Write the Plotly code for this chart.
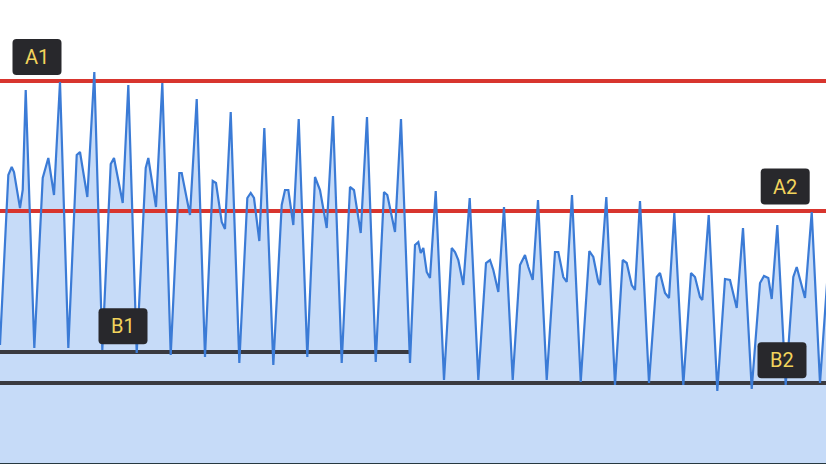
import plotly.graph_objects as go

# time (s) and pressure-like values
t = [0.0,
     0.208, 0.293, 0.35, 0.5, 0.568, 0.643, 0.858,
     1.068, 1.208, 1.35, 1.5, 1.708,
     1.918, 2.0, 2.183, 2.358, 2.558,
     2.768, 2.85, 3.068, 3.208, 3.418,
     3.643, 3.708, 3.9, 4.058, 4.268,
     4.483, 4.543, 4.75, 4.918, 5.125,
     5.318, 5.4, 5.543, 5.625, 5.768, 5.983,
     6.183, 6.268, 6.35, 6.483, 6.608, 6.833,
     7.043, 7.125, 7.208, 7.333, 7.468, 7.683,
     7.875, 8.0, 8.168, 8.325, 8.543,
     8.75, 8.85, 9.018, 9.175, 9.393,
     9.6, 9.683, 9.875, 10.025, 10.25,
     10.375, 10.458, 10.518, 10.583, 10.668, 10.75, 10.893, 11.1,
     11.293, 11.375, 11.458, 11.583, 11.743, 11.958,
     12.15, 12.25, 12.333, 12.458, 12.6, 12.818,
     13.0, 13.125, 13.208, 13.318, 13.45, 13.668,
     13.875, 13.958, 14.083, 14.168, 14.3, 14.518,
     14.733, 14.833, 14.958, 15.0, 15.158, 15.375,
     15.568, 15.668, 15.793, 15.875, 16.0, 16.225,
     16.418, 16.5, 16.625, 16.725, 16.858, 17.083,
     17.275, 17.375, 17.5, 17.558, 17.718, 17.933,
     18.125, 18.25, 18.418, 18.575, 18.793,
     19.0, 19.1, 19.208, 19.293, 19.433, 19.643,
     19.833, 19.918, 20.083, 20.125, 20.293, 20.5,
     20.7, 20.8]

pressure = [59.5,
            144.5, 148.5, 146, 128, 137, 187, 58,
            143, 153, 134.5, 191, 58,
            154.5, 156, 133.5, 196, 57,
            150, 153, 130.5, 189.5, 55.5,
            148, 153, 128.5, 190.5, 54.5,
            145.5, 145.5, 124.5, 182.5, 53.5,
            141.5, 140.5, 121, 117.5, 176, 50.5,
            133, 135.5, 133, 111.5, 168, 49.5,
            129.5, 137, 137, 119.5, 172.5, 53.5,
            143.5, 137, 118, 174, 50.5,
            138.5, 137, 115.5, 173.5, 51,
            136, 134.5, 116, 172.5, 50.5,
            109.5, 111, 105.5, 108, 96, 93, 136.5, 42,
            108, 106, 102, 89.5, 133, 42,
            100.5, 102, 97, 86, 128.5, 42,
            99.5, 104.5, 98.5, 92, 132, 42,
            106, 106, 93.5, 91, 134.5, 41,
            106.5, 103.5, 91, 89.5, 133.5, 39.5,
            102, 100.5, 89.5, 87, 131.5, 40.5,
            93.5, 95.5, 85.5, 83, 125.5, 39.5,
            95.5, 93.5, 83.5, 82, 124.5, 36.5,
            92.5, 92, 78, 118, 37.5,
            90.5, 94, 93, 82.5, 119.5, 39.5,
            93.5, 98.5, 85.5, 83, 126, 40.5,
            97, 99.5]

# reference levels
level_names = ["A1", "A2", "B1", "B2"]
level_values = [191.5, 126.5, 56, 40.5]
level_start = [0, 0, 0, 0]
level_end = [20.65, 20.65, 10.26, 20.65]
level_colors = ["#d8352e", "#d8352e", "#3a3a40", "#3a3a40"]

# label anchor positions (data units)
label_t = [0.925, 19.63, 3.075, 19.55]
label_v = [203.5, 138.75, 68.85, 51.85]

X_RANGE = [0, 20.65]
Y_RANGE = [0.5, 232]

# rounded box outline (pixels, relative to the label anchor)
BOX_PATH = ("M -20.5,-18 L 20.5,-18 Q 24.5,-18 24.5,-14 L 24.5,14 Q 24.5,18 20.5,18 "
            "L -20.5,18 Q -24.5,18 -24.5,14 L -24.5,-14 Q -24.5,-18 -20.5,-18 Z")

fig = go.Figure()

# filled area
fig.add_trace(go.Scatter(
    x=t, y=pressure, mode="lines", fill="tozeroy",
    fillcolor="#c6dbf8", line=dict(width=0, color="#c6dbf8"),
    hoverinfo="skip", showlegend=False))

# reference lines
for name, val, x0, x1, col in zip(level_names, level_values, level_start, level_end, level_colors):
    fig.add_trace(go.Scatter(
        x=[x0, x1], y=[val, val], mode="lines",
        line=dict(color=col, width=4), showlegend=False, name=name))

# waveform line
fig.add_trace(go.Scatter(
    x=t, y=pressure, mode="lines",
    line=dict(color="#3b7bd6", width=2.2), showlegend=False))

for name, lx, ly in zip(level_names, label_t, label_v):
    fig.add_shape(
        type="path", path=BOX_PATH, xref="x", yref="y",
        xsizemode="pixel", ysizemode="pixel", xanchor=lx, yanchor=ly,
        fillcolor="#28282c", line=dict(width=0), layer="above")
    fig.add_annotation(
        x=lx, y=ly, xref="x", yref="y", text=name, showarrow=False,
        xanchor="center", yanchor="middle",
        font=dict(family="Roboto", size=20, color="#f2d45c"))

fig.update_layout(
    width=826, height=464,
    margin=dict(l=0, r=0, t=0, b=1),
    paper_bgcolor="white", plot_bgcolor="white",
    xaxis=dict(range=X_RANGE, visible=True, showgrid=False, zeroline=False,
               showticklabels=False, ticks="", showline=True,
               linecolor="#263840", linewidth=2),
    yaxis=dict(range=Y_RANGE, visible=False, showgrid=False, zeroline=False),
)

fig.write_html(
    "out.html",
    config={"displayModeBar": False},
    post_script="document.body.style.margin='0px';document.body.style.padding='0px';document.body.style.overflow='hidden';")
